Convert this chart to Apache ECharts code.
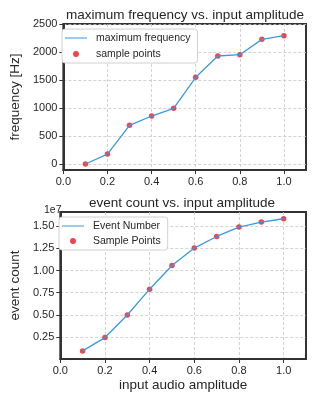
<!DOCTYPE html>
<html><head><meta charset="utf-8">
<script src="https://cdn.jsdelivr.net/npm/echarts@6/dist/echarts.min.js"></script>
<style>html,body{margin:0;padding:0;background:#fff}#c{width:318px;height:396px}</style>
</head><body><div id="c"></div>
<script>
const amplitude = [0.1, 0.2, 0.3, 0.4, 0.5, 0.6, 0.7, 0.8, 0.9, 1.0];
const maxFrequency = [0, 178, 690, 857, 995, 1548, 1929, 1952, 2226, 2291];
const eventCount1e7 = [0.096, 0.246, 0.50, 0.79, 1.057, 1.252, 1.383, 1.489, 1.545, 1.582];
const xTicks = [0, 0.2, 0.4, 0.6, 0.8, 1.0];
const freqTicks = [0, 500, 1000, 1500, 2000, 2500];
const countTicks = [0.25, 0.5, 0.75, 1.0, 1.25, 1.5];

const FONT = '"Liberation Sans", Arial, sans-serif';
const TXT = '#262626';
const FRAME = '#333333';
const LINE = '#3a9ad9';
const DOT = '#f0303c';
const LINE_ICON = 'path://M0,0L0.01,0M0,5.4H22V6.6H0ZM0,12L0.01,12';
const DOT_ICON = 'path://M6,6m-3,0a3,3 0 1,0 6,0a3,3 0 1,0 -6,0M0,0L0.01,0M12,12L12.01,12';

function xAxis(gridIndex, name) {
  return {
    type: 'value', gridIndex, min: 0, max: 1.1,
    name: name || '', nameLocation: 'middle', nameGap: 19,
    nameTextStyle: {fontFamily: FONT, fontSize: 13.5, color: TXT},
    axisLine: {show: true, onZero: false, lineStyle: {color: FRAME, width: 2}},
    axisTick: {show: true, length: 4, lineStyle: {color: FRAME, width: 1}, customValues: xTicks},
    axisLabel: {fontFamily: FONT, fontSize: 11, color: TXT, margin: 6, customValues: xTicks,
      formatter: v => v.toFixed(1)},
    splitLine: {show: true, lineStyle: {color: '#c8c8c8', type: [3, 2], width: 0.8}}
  };
}
function yAxis(gridIndex, min, max, ticks, fmt, name, gap) {
  return {
    type: 'value', gridIndex, min, max,
    name, nameLocation: 'middle', nameGap: gap,
    nameTextStyle: {fontFamily: FONT, fontSize: 13.5, color: TXT},
    axisLine: {show: true, onZero: false, lineStyle: {color: FRAME, width: 2}},
    axisTick: {show: true, length: 4, lineStyle: {color: FRAME, width: 1}, customValues: ticks},
    axisLabel: {fontFamily: FONT, fontSize: 11, color: TXT, margin: 6, customValues: ticks, formatter: fmt},
    splitLine: {show: true, lineStyle: {color: '#c8c8c8', type: [3, 2], width: 0.8}}
  };
}
function legend(top, left, gap, names) {
  return {
    orient: 'vertical', top, left, itemWidth: 22, itemHeight: 12, itemGap: gap,
    padding: [3, 7, 3, 3],
    backgroundColor: '#fff', borderColor: '#d0d0d0', borderWidth: 1, borderRadius: 3,
    textStyle: {fontFamily: FONT, fontSize: 10.5, color: TXT, padding: [0, 0, 0, 4]},
    data: names
  };
}

const chart = echarts.init(document.getElementById('c'), null, {renderer: 'canvas'});
chart.setOption({
  animation: false,
  title: [
    {text: 'maximum frequency vs. input amplitude', left: 180, top: 3, textAlign: 'center',
      textStyle: {fontFamily: FONT, fontSize: 13.5, fontWeight: 'normal', color: TXT}},
    {text: 'event count vs. input amplitude', left: 177, top: 191, textAlign: 'center',
      textStyle: {fontFamily: FONT, fontSize: 13.5, fontWeight: 'normal', color: TXT}},
    {text: '1e7', left: 39, top: 200,
      textStyle: {fontFamily: FONT, fontSize: 10.5, fontWeight: 'normal', color: TXT}}
  ],
  grid: [
    {left: 56, right: 12, top: 24, height: 146, show: true, borderColor: FRAME, borderWidth: 2, backgroundColor: 'transparent'},
    {left: 53, right: 12, top: 212, height: 147, show: true, borderColor: FRAME, borderWidth: 2, backgroundColor: 'transparent'}
  ],
  xAxis: [xAxis(0), xAxis(1, 'input audio amplitude')],
  yAxis: [
    yAxis(0, -107, 2500, freqTicks, v => String(v), 'frequency [Hz]', 34),
    yAxis(1, 0.005, 1.658, countTicks, v => v.toFixed(2), 'event count', 31)
  ],
  legend: [
    legend(29, 62, 4, [{name: 'maximum frequency', icon: LINE_ICON},
      {name: 'sample points', icon: DOT_ICON}]),
    legend(217, 59, 3, [{name: 'Event Number', icon: LINE_ICON},
      {name: 'Sample Points', icon: DOT_ICON}])
  ],
  series: [
    {name: 'sample points', type: 'scatter', xAxisIndex: 0, yAxisIndex: 0, symbolSize: 5.5,
      itemStyle: {color: DOT, opacity: 0.9}, z: 2,
      data: amplitude.map((x, i) => [x, maxFrequency[i]])},
    {name: 'maximum frequency', type: 'line', xAxisIndex: 0, yAxisIndex: 0, symbol: 'none',
      lineStyle: {color: LINE, width: 1.3}, itemStyle: {color: LINE}, z: 3,
      data: amplitude.map((x, i) => [x, maxFrequency[i]])},
    {name: 'Sample Points', type: 'scatter', xAxisIndex: 1, yAxisIndex: 1, symbolSize: 5.5,
      itemStyle: {color: DOT, opacity: 0.9}, z: 2,
      data: amplitude.map((x, i) => [x, eventCount1e7[i]])},
    {name: 'Event Number', type: 'line', xAxisIndex: 1, yAxisIndex: 1, symbol: 'none',
      lineStyle: {color: LINE, width: 1.3}, itemStyle: {color: LINE}, z: 3,
      data: amplitude.map((x, i) => [x, eventCount1e7[i]])}
  ]
});
</script></body></html>
